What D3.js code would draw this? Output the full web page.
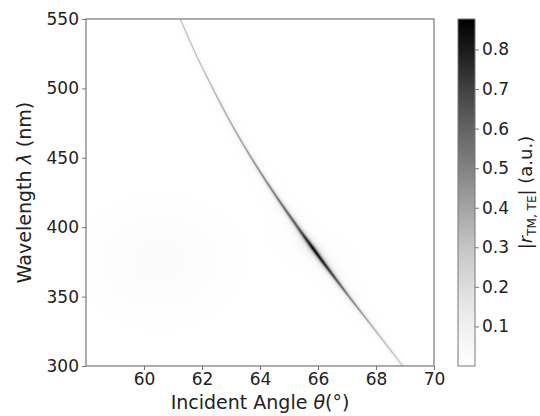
<!DOCTYPE html>
<head>
  <meta charset="utf-8">
  <style>
  body{
    margin:0;
    background:white;
  }
  text{
    font-family: "DejaVu Sans", sans-serif;
    fill:#222;
  }
  </style>
</head>
<body>
  <svg width="540" height="416"></svg>
  <script src="https://d3js.org/d3.v7.min.js"></script>
  <script>

  // resonance ridge: wavelength (nm) -> angle (deg), peak |r|, half width (deg)
  var ridgeLambda = [300, 325, 350, 375, 385, 400, 425, 450, 475, 500, 525, 550];
  var ridgeTheta  = [68.92, 68.0, 67.07, 66.17, 65.82, 65.3, 64.47, 63.7, 63.0, 62.37, 61.78, 61.25];
  var ridgePeak   = [0.32, 0.4, 0.55, 0.82, 0.877, 0.66, 0.55, 0.5, 0.45, 0.42, 0.4, 0.38];
  var ridgeWidth  = [0.03, 0.035, 0.05, 0.08, 0.09, 0.07, 0.05, 0.035, 0.03, 0.025, 0.02, 0.02];

  // faint background bump: [angle, wavelength, value, spread angle, spread wavelength]
  var bump = [60.5, 375, 0.03, 1.4, 24];

  var xTicks = [60, 62, 64, 66, 68, 70],
      yTicks = [300, 350, 400, 450, 500, 550],
      cTicks = [0.1, 0.2, 0.3, 0.4, 0.5, 0.6, 0.7, 0.8];

  var svg = d3.select("svg"),
      pL = 86, pT = 19, pR = 434, pB = 366;

  var x = d3.scaleLinear().domain([58, 70]).range([pL, pR]),
      y = d3.scaleLinear().domain([300, 550]).range([pB, pT]),
      color = d3.scaleSequential(d3.interpolateGreys).domain([0, 0.877]);

  var rPeak = d3.scaleLinear().domain(ridgeLambda).range(ridgePeak).clamp(true),
      rWidth = d3.scaleLinear().domain(ridgeLambda).range(ridgeWidth).clamp(true);

  // smooth (cubic hermite) pass through the ridge points so the line has no kinks
  function slope(i) {
    var a = Math.max(i - 1, 0), b = Math.min(i + 1, ridgeLambda.length - 1);
    return (ridgeTheta[b] - ridgeTheta[a]) / (ridgeLambda[b] - ridgeLambda[a]);
  }
  function rTheta(lam) {
    var i = Math.min(Math.max(d3.bisectRight(ridgeLambda, lam) - 1, 0), ridgeLambda.length - 2);
    var h = ridgeLambda[i + 1] - ridgeLambda[i], t = (lam - ridgeLambda[i]) / h;
    var t2 = t * t, t3 = t2 * t;
    return (2 * t3 - 3 * t2 + 1) * ridgeTheta[i] + (t3 - 2 * t2 + t) * h * slope(i) +
           (-2 * t3 + 3 * t2) * ridgeTheta[i + 1] + (t3 - t2) * h * slope(i + 1);
  }

  function value(th, lam) {
    var w = rWidth(lam), d = th - rTheta(lam);
    var v = rPeak(lam) * w * w / (d * d + w * w);
    var bx = (th - bump[0]) / bump[3], by = (lam - bump[1]) / bump[4];
    return v + bump[2] * Math.exp(-0.5 * (bx * bx + by * by));
  }

  // heatmap painted into a canvas, then placed as an svg image
  var W = pR - pL, H = pB - pT, ss = 3;
  var canvas = document.createElement("canvas");
  canvas.width = W; canvas.height = H;
  var ctx = canvas.getContext("2d"),
      img = ctx.createImageData(W, H);
  for (var j = 0; j < H; j++) {
    for (var i = 0; i < W; i++) {
      var s = 0;
      for (var a = 0; a < ss; a++) for (var b = 0; b < ss; b++) {
        s += value(x.invert(pL + i + (a + 0.5) / ss), y.invert(pT + j + (b + 0.5) / ss));
      }
      var c = d3.rgb(color(s / (ss * ss))), k = (j * W + i) * 4;
      img.data[k] = c.r; img.data[k + 1] = c.g; img.data[k + 2] = c.b; img.data[k + 3] = 255;
    }
  }
  ctx.putImageData(img, 0, 0);

  svg.append("image")
      .attr("x", pL).attr("y", pT)
      .attr("width", W).attr("height", H)
      .attr("href", canvas.toDataURL());

  svg.append("rect")
      .attr("x", pL).attr("y", pT)
      .attr("width", W).attr("height", H)
      .attr("fill", "none")
      .attr("stroke", "#777")
      .attr("stroke-width", 1.2);

  var xAxis = svg.append("g")
      .attr("transform", "translate(0," + pB + ")")
      .call(d3.axisBottom(x).tickValues(xTicks).tickSize(4).tickPadding(3));
  var yAxis = svg.append("g")
      .attr("transform", "translate(" + pL + ",0)")
      .call(d3.axisLeft(y).tickValues(yTicks).tickSize(4).tickPadding(3));

  [xAxis, yAxis].forEach(function(g) {
    g.select(".domain").remove();
    g.selectAll("line").attr("stroke", "#777");
    g.selectAll("text").style("font-size", "17px").attr("fill", "#222");
  });

  svg.append("text")
      .attr("x", (pL + pR) / 2).attr("y", 409)
      .attr("text-anchor", "middle")
      .style("font-size", "19px")
      .html("Incident Angle <tspan font-style='italic'>θ</tspan>(°)");

  svg.append("text")
      .attr("transform", "translate(31," + (pT + pB) / 2 + ") rotate(-90)")
      .attr("text-anchor", "middle")
      .style("font-size", "19px")
      .html("Wavelength <tspan font-style='italic'>λ</tspan> (nm)");

  // colorbar
  var cbLeft = 458, cbW = 17;
  var cy = d3.scaleLinear().domain(color.domain()).range([pB, pT]);

  var grad = svg.append("defs").append("linearGradient")
      .attr("id", "cb")
      .attr("x1", 0).attr("y1", 1).attr("x2", 0).attr("y2", 0);
  grad.selectAll("stop")
    .data(d3.range(0, 1.001, 0.05))
    .enter().append("stop")
      .attr("offset", function(d) { return d; })
      .attr("stop-color", function(d) { return d3.interpolateGreys(d); });

  svg.append("rect")
      .attr("x", cbLeft).attr("y", pT)
      .attr("width", cbW).attr("height", pB - pT)
      .attr("fill", "url(#cb)")
      .attr("stroke", "#777")
      .attr("stroke-width", 1);

  var cAxis = svg.append("g")
      .attr("transform", "translate(" + (cbLeft + cbW) + ",0)")
      .call(d3.axisRight(cy).tickValues(cTicks).tickFormat(d3.format(".1f")).tickSize(4).tickPadding(3));
  cAxis.select(".domain").remove();
  cAxis.selectAll("line").attr("stroke", "#777");
  cAxis.selectAll("text").style("font-size", "17px").attr("fill", "#222");

  svg.append("text")
      .attr("transform", "translate(532," + (pT + pB) / 2 + ") rotate(-90)")
      .attr("text-anchor", "middle")
      .style("font-size", "18px")
      .html("|<tspan font-style='italic'>r</tspan><tspan dy='4' font-size='12px'>TM, TE</tspan><tspan dy='-4'>| (a.u.)</tspan>");

  </script>
</body>
